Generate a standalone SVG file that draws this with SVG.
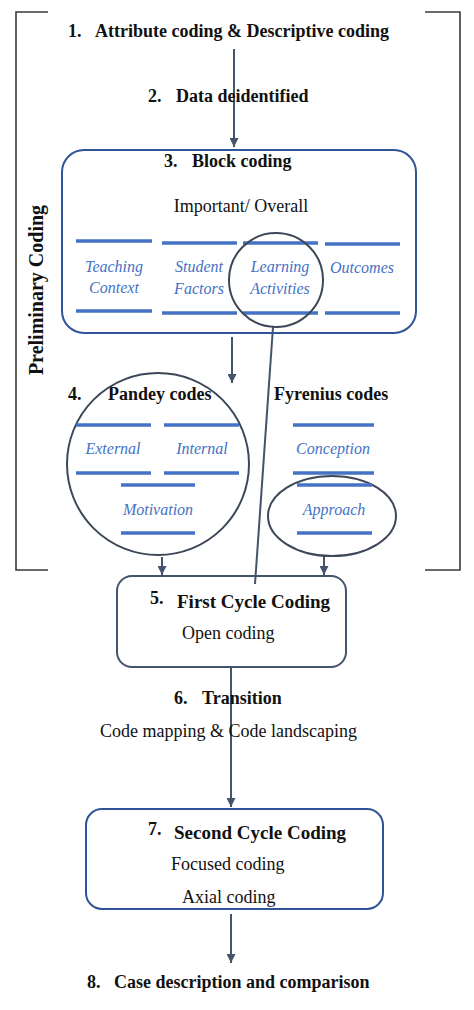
<svg xmlns="http://www.w3.org/2000/svg" width="474" height="1010" viewBox="0 0 474 1010">
<defs>
<marker id="ah" viewBox="0 0 10 10" refX="10" refY="5" markerWidth="9" markerHeight="9" markerUnits="userSpaceOnUse" orient="auto">
<path d="M0,0 L10,5 L0,10 z" fill="#44546a"/>
</marker>
<style>
text{font-family:"Liberation Serif","Times New Roman",serif;fill:#111}
.b{font-weight:bold;font-size:18px}
.r{font-size:18px}
.h{font-weight:bold;font-size:19px}
.i{font-family:"Liberation Serif","DejaVu Serif",serif;font-style:italic;font-size:16px;fill:#4472c4;text-anchor:middle}
.bl{stroke:#4472c4;stroke-width:3.5}
.con{stroke:#44546a;stroke-width:2;fill:none}
.circ{stroke:#3c4858;stroke-width:2;fill:none}
.brk{stroke:#3a3a3a;stroke-width:1.6;fill:none}
</style>
</defs>
<rect width="474" height="1010" fill="#fff"/>
<g id="bracket">
<path class="brk" d="M48,12 H16 V570 H48"/>
<path class="brk" d="M425,12 H460 V570 H425"/>
<text class="b" style="font-size:20px" transform="translate(43,290) rotate(-90)" text-anchor="middle">Preliminary Coding</text>
</g>
<g id="connectors">
<line class="con" x1="234" y1="49" x2="234" y2="147" marker-end="url(#ah)"/>
<line class="con" x1="232" y1="337" x2="232" y2="383" marker-end="url(#ah)"/>
<line class="con" x1="162" y1="557" x2="162" y2="575" marker-end="url(#ah)"/>
<line class="con" x1="324" y1="556" x2="324" y2="575" marker-end="url(#ah)"/>
<line class="con" x1="273" y1="327" x2="255" y2="584"/>
<line class="con" x1="231" y1="667" x2="231" y2="807" marker-end="url(#ah)"/>
<line class="con" x1="231" y1="914" x2="231" y2="963" marker-end="url(#ah)"/>
</g>
<g id="n1">
<text class="b" x="68" y="37">1.</text>
<text class="b" x="95" y="37">Attribute coding &amp; Descriptive coding</text>
</g>
<g id="n2">
<text class="b" x="148" y="102">2.</text>
<text class="b" x="176" y="102">Data deidentified</text>
</g>
<g id="n3">
<rect x="62" y="150" width="354" height="183" rx="22" fill="none" stroke="#2f5597" stroke-width="2"/>
<text class="b" x="164" y="167">3.</text>
<text class="b" x="192" y="167">Block coding</text>
<text class="r" x="241" y="212" text-anchor="middle">Important/ Overall</text>
<line class="bl" x1="76" y1="241" x2="152" y2="241"/>
<line class="bl" x1="162" y1="243" x2="237" y2="243"/>
<line class="bl" x1="243" y1="243" x2="318" y2="243"/>
<line class="bl" x1="325" y1="244" x2="400" y2="244"/>
<line class="bl" x1="76" y1="311" x2="152" y2="311"/>
<line class="bl" x1="162" y1="313" x2="237" y2="313"/>
<line class="bl" x1="243" y1="313" x2="318" y2="313"/>
<line class="bl" x1="325" y1="313" x2="400" y2="313"/>
<text class="i" x="114" y="272">Teaching</text>
<text class="i" x="114" y="293">Context</text>
<text class="i" x="199" y="272">Student</text>
<text class="i" x="199" y="294">Factors</text>
<text class="i" x="280" y="272">Learning</text>
<text class="i" x="280" y="294">Activities</text>
<text class="i" x="362" y="273">Outcomes</text>
<circle class="circ" cx="276" cy="280" r="47"/>
</g>
<g id="n4">
<text class="b" x="68" y="400">4.</text>
<text class="b" x="108" y="400">Pandey codes</text>
<circle class="circ" cx="158" cy="464" r="91"/>
<line class="bl" x1="76" y1="425" x2="151" y2="425"/>
<line class="bl" x1="164" y1="425" x2="239" y2="425"/>
<line class="bl" x1="76" y1="473" x2="151" y2="473"/>
<line class="bl" x1="164" y1="473" x2="239" y2="473"/>
<line class="bl" x1="121" y1="485" x2="195" y2="485"/>
<line class="bl" x1="121" y1="533" x2="195" y2="533"/>
<text class="i" x="113" y="454">External</text>
<text class="i" x="202" y="454">Internal</text>
<text class="i" x="158" y="515">Motivation</text>
</g>
<g id="n4b">
<text class="b" x="274" y="400">Fyrenius codes</text>
<line class="bl" x1="293" y1="425" x2="374" y2="425"/>
<line class="bl" x1="293" y1="473" x2="374" y2="473"/>
<text class="i" x="333" y="454">Conception</text>
<ellipse class="circ" cx="332" cy="516" rx="64" ry="40"/>
<line class="bl" x1="297" y1="485" x2="372" y2="485"/>
<line class="bl" x1="297" y1="533" x2="372" y2="533"/>
<text class="i" x="334" y="515">Approach</text>
</g>
<g id="n5">
<rect x="117" y="576" width="229" height="91" rx="15" fill="none" stroke="#44546a" stroke-width="2"/>
<text class="b" x="150" y="604">5.</text>
<text class="h" x="177" y="608">First Cycle Coding</text>
<text class="r" x="182" y="639">Open coding</text>
</g>
<g id="n6">
<text class="b" x="174" y="704">6.</text>
<text class="b" x="202" y="704">Transition</text>
<text class="r" x="100" y="737">Code mapping &amp; Code landscaping</text>
</g>
<g id="n7">
<rect x="86" y="809" width="297" height="100" rx="16" fill="none" stroke="#2f5597" stroke-width="2"/>
<text class="b" x="148" y="835">7.</text>
<text class="h" x="174" y="839">Second Cycle Coding</text>
<text class="r" x="171" y="870">Focused coding</text>
<text class="r" x="182" y="903">Axial coding</text>
</g>
<g id="n8">
<text class="b" x="87" y="988">8.</text>
<text class="b" x="114" y="988">Case description and comparison</text>
</g>
</svg>
